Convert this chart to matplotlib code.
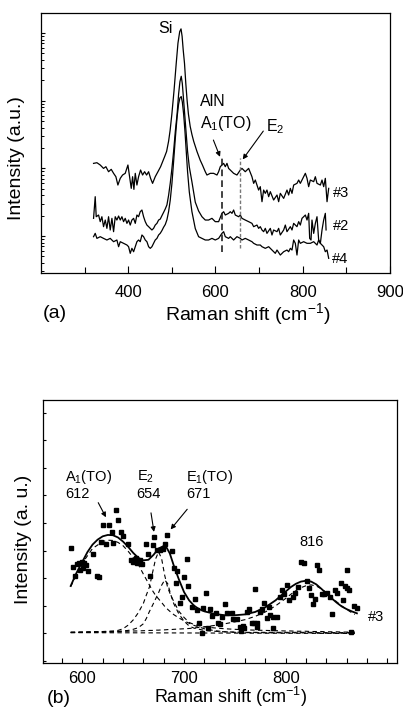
import numpy as np
import matplotlib
matplotlib.use('Agg')
import matplotlib.pyplot as plt
from matplotlib.ticker import LogLocator, NullFormatter, MultipleLocator, FixedLocator

plt.rcParams['font.family'] = ['Liberation Sans', 'DejaVu Sans']
plt.rcParams['mathtext.fontset'] = 'custom'
plt.rcParams['mathtext.rm'] = 'Liberation Sans'
plt.rcParams['mathtext.it'] = 'Liberation Sans:italic'
plt.rcParams['mathtext.bf'] = 'Liberation Sans:bold'

# (a) Raman spectra, log10 of intensity
x3 = [320.5, 328.2, 335.8, 343.4, 348.8, 354.9, 361.0, 366.4, 371.7, 376.3,
      381.7, 387.0, 393.1, 399.3, 403.1, 406.9, 410.0, 413.0, 416.1, 419.9,
      423.7, 428.3, 432.9, 437.5, 442.1, 446.7, 451.2, 455.8, 461.9, 468.1,
      474.2, 478.8, 483.4, 488.0, 492.5, 496.0, 500.0, 505.0, 510.0, 514.0,
      518.0, 521.0, 523.5, 526.0, 529.0, 532.0, 535.0, 538.0, 542.0, 546.0,
      550.0, 557.5, 565.0, 570.0, 576.6, 580.4, 588.1, 595.7, 603.4, 607.2,
      611.0, 614.8, 618.7, 622.5, 626.3, 630.1, 633.9, 641.6, 649.2, 656.9,
      660.7, 668.3, 676.0, 683.6, 687.5, 691.3, 695.1, 698.9, 702.7, 706.6,
      710.4, 714.2, 718.0, 721.9, 725.7, 733.3, 741.0, 744.8, 748.6, 756.3,
      763.9, 767.7, 771.6, 775.4, 779.2, 786.8, 790.7, 794.5, 802.1, 806.0,
      809.8, 813.6, 817.4, 825.1, 828.9, 832.7, 840.4, 844.2, 848.0, 851.8,
      855.7, 859.5]
log3 = [1.073, 1.083, 1.049, 0.999, 1.024, 0.950, 0.985, 0.926, 0.876, 0.753,
        0.852, 0.901, 0.926, 1.049, 0.876, 0.704, 0.876, 0.689, 0.926, 0.753,
        0.876, 0.975, 0.901, 0.950, 0.901, 0.950, 0.852, 0.778, 0.876, 0.950,
        1.024, 1.098, 1.172, 1.250, 1.400, 1.560, 1.800, 2.150, 2.550, 2.850,
        3.020, 3.060, 2.950, 2.750, 2.550, 2.250, 2.000, 1.800, 1.620, 1.500,
        1.400, 1.250, 1.120, 1.050, 0.950, 0.901, 0.926, 0.926, 0.901, 0.950,
        1.024, 1.049, 1.073, 1.024, 1.073, 0.999, 0.975, 0.926, 0.901, 0.975,
        0.999, 0.950, 0.999, 0.876, 0.778, 0.827, 0.753, 0.679, 0.729, 0.507,
        0.679, 0.630, 0.679, 0.581, 0.655, 0.532, 0.606, 0.507, 0.630, 0.556,
        0.679, 0.606, 0.704, 0.630, 0.753, 0.778, 0.827, 0.778, 0.876, 0.926,
        0.852, 0.729, 0.827, 0.803, 0.876, 0.778, 0.753, 0.827, 0.729, 0.852,
        0.507, 0.704]

x2 = [320.5, 324.3, 326.6, 332.0, 335.8, 339.6, 343.4, 347.3, 351.1, 354.9,
      358.7, 362.6, 366.4, 370.2, 374.0, 377.9, 381.7, 385.5, 389.3, 393.1,
      397.0, 400.8, 404.6, 408.4, 412.3, 416.1, 419.9, 423.7, 427.5, 431.4,
      435.2, 439.0, 442.8, 446.7, 450.5, 454.3, 458.1, 461.9, 465.8, 469.6,
      473.4, 477.2, 481.1, 484.9, 488.7, 492.5, 496.3, 500.2, 504.0, 508.0,
      512.0, 515.5, 518.5, 521.5, 524.0, 527.0, 530.0, 533.0, 536.0, 540.0,
      546.0, 553.7, 561.3, 569.0, 576.6, 584.2, 591.9, 599.5, 607.2, 614.8,
      618.7, 622.5, 630.1, 633.9, 637.8, 641.6, 645.4, 653.1, 656.9, 660.7,
      668.3, 676.0, 683.6, 687.5, 695.1, 698.9, 702.7, 706.6, 710.4, 714.2,
      718.0, 725.7, 729.5, 733.3, 741.0, 744.8, 748.6, 756.3, 760.1, 763.9,
      771.6, 775.4, 779.2, 786.8, 790.7, 794.5, 798.3, 802.1, 806.0, 809.8,
      813.6, 815.9, 819.0, 821.2, 825.1, 828.9, 832.7, 836.5, 840.4, 844.2,
      848.0, 851.8, 853.5]
log2 = [0.261, 0.581, 0.285, 0.310, 0.212, 0.285, 0.138, 0.236, 0.113, 0.285,
        0.089, 0.261, 0.064, 0.285, 0.236, 0.295, 0.236, 0.285, 0.212, 0.261,
        0.187, 0.236, 0.162, 0.236, 0.261, 0.187, 0.310, 0.285, 0.359, 0.384,
        0.285, 0.212, 0.162, 0.138, 0.113, 0.089, 0.113, 0.162, 0.187, 0.236,
        0.250, 0.300, 0.350, 0.400, 0.460, 0.600, 0.780, 1.000, 1.250, 1.550,
        1.800, 2.100, 2.280, 2.360, 2.250, 2.000, 1.750, 1.500, 1.250, 1.020,
        0.800, 0.500, 0.370, 0.285, 0.236, 0.236, 0.261, 0.212, 0.212, 0.335,
        0.359, 0.310, 0.335, 0.359, 0.335, 0.384, 0.310, 0.285, 0.310, 0.261,
        0.236, 0.212, 0.187, 0.138, 0.162, 0.113, 0.138, 0.089, 0.064, 0.113,
        0.039, 0.113, 0.015, 0.089, 0.064, 0.113, 0.015, 0.089, 0.162, 0.064,
        0.138, 0.089, 0.187, 0.138, 0.212, 0.162, 0.261, 0.285, 0.310, 0.236,
        0.335, -0.035, -0.059, 0.236, 0.039, 0.187, 0.285, -0.059, -0.108, 0.089,
        0.236, 0.335, 0.090]

x4 = [320.5, 324.3, 328.2, 335.8, 343.4, 351.1, 358.7, 366.4, 374.0, 377.9,
      381.7, 389.3, 397.0, 400.8, 404.6, 408.4, 412.3, 416.1, 419.9, 423.7,
      427.5, 431.4, 435.2, 439.0, 442.8, 446.7, 450.5, 454.3, 458.1, 461.9,
      465.8, 469.6, 473.4, 477.2, 481.1, 484.9, 488.7, 492.5, 496.3, 500.2,
      504.0, 508.0, 512.0, 515.5, 518.5, 521.5, 524.0, 527.0, 530.0, 533.0,
      536.0, 540.0, 546.0, 553.7, 561.3, 569.0, 576.6, 584.2, 591.9, 599.5,
      607.2, 614.8, 618.7, 622.5, 630.1, 633.9, 641.6, 649.2, 656.9, 660.7,
      668.3, 676.0, 683.6, 687.5, 695.1, 702.7, 706.6, 714.2, 721.9, 729.5,
      737.1, 741.0, 748.6, 756.3, 763.9, 767.7, 771.6, 775.4, 779.2, 783.0,
      786.8, 790.7, 794.5, 802.1, 809.8, 817.4, 825.1, 832.7, 836.5, 840.4,
      848.0, 851.8, 855.7, 859.5]
log4 = [-0.010, 0.039, -0.035, -0.010, -0.035, -0.059, -0.035, -0.084, -0.059, -0.158,
        -0.084, -0.108, -0.133, -0.158, -0.256, -0.182, -0.232, -0.158, -0.084, -0.059,
        -0.084, 0.015, -0.010, -0.059, -0.084, -0.158, -0.182, -0.158, -0.108, -0.059,
        -0.035, 0.015, 0.040, 0.080, 0.130, 0.170, 0.240, 0.360, 0.530, 0.780,
        1.100, 1.450, 1.760, 1.950, 2.040, 2.060, 1.980, 1.800, 1.550, 1.250,
        0.950, 0.650, 0.360, 0.110, -0.010, -0.035, -0.059, -0.059, -0.035, -0.059,
        -0.035, 0.039, 0.064, -0.010, -0.035, -0.010, -0.059, -0.010, -0.035, -0.059,
        -0.035, -0.059, -0.084, -0.108, -0.133, -0.133, -0.158, -0.182, -0.158, -0.207,
        -0.256, -0.207, -0.281, -0.232, -0.207, -0.232, -0.182, -0.207, -0.059, -0.108,
        -0.281, -0.059, -0.108, -0.084, -0.108, -0.108, -0.084, -0.133, -0.059, -0.108,
        -0.158, -0.232, -0.207, -0.330]

# AlN mode markers in (a): position, log10 of bottom and top
mode_x = [615, 656]
mode_lo = [-0.23, -0.18]
mode_hi = [1.17, 1.15]

# (b) measured points of #3
pts_x = [588.5, 591.0, 592.7, 595.0, 597.0, 597.6, 599.3, 600.9, 601.6, 603.5,
         605.8, 610.7, 614.6, 616.6, 618.0, 620.0, 623.2, 626.5, 628.8, 630.4,
         633.0, 635.3, 638.0, 639.6, 645.1, 647.5, 650.0, 652.7, 654.0, 656.6,
         658.3, 662.5, 664.8, 666.5, 669.1, 670.7, 673.1, 676.3, 679.0, 681.2,
         683.5,
         687.8, 690.0, 692.0, 693.3, 696.0, 698.2, 699.9, 702.6, 704.0, 707.5,
         710.7, 712.4, 715.0, 717.3, 718.9, 721.5, 723.8, 725.5, 727.1, 731.4,
         733.6, 735.3, 737.0, 740.2, 742.5, 746.8, 748.4, 751.7, 755.0, 755.7,
         758.2, 758.9, 761.6, 763.8, 767.0, 768.7, 769.7, 771.4, 772.0, 774.6,
         776.3, 778.6, 781.2, 783.8, 784.5, 787.7, 787.7, 791.0, 794.3, 796.6,
         798.2, 800.9,
         803.4, 807.4, 809.1, 812.3, 814.6, 817.9, 820.5, 823.1, 824.5, 827.0,
         828.7, 830.4, 833.0, 835.3, 837.9, 840.8, 843.5, 845.1, 848.4, 850.0,
         854.0, 856.5, 858.2, 859.9, 860.5, 862.5, 863.8, 867.0, 869.7]
pts_y = [4.10, 3.42, 3.08, 3.51, 3.56, 3.30, 3.60, 3.36, 3.56, 3.48,
         3.26, 3.88, 3.08, 3.03, 4.32, 4.92, 4.26, 4.92, 4.69, 4.29,
         5.47, 5.11, 4.69, 4.53, 4.23, 3.66, 3.60, 3.72, 3.54, 3.66,
         3.51, 4.24, 3.88, 3.08, 4.19, 4.48, 4.02, 4.02, 4.05, 4.26,
         4.57,
         4.00, 3.36, 2.84, 3.26, 2.11, 2.33, 3.05, 3.70, 2.72, 1.97,
         2.24, 1.85, 1.37, 1.00, 1.91, 2.47, 1.18, 1.87, 1.63, 1.73,
         1.37, 1.34, 1.58, 2.05, 1.73, 1.73, 1.53, 1.52, 1.24, 1.09,
         1.27, 1.18, 1.79, 1.90, 1.37, 1.39, 2.60, 1.24, 1.39, 1.78,
         1.90, 2.11, 1.55, 1.95, 1.67, 1.61, 1.18, 1.61, 2.33, 2.57,
         2.42, 2.75,
         2.21, 2.33, 2.45, 2.67, 3.60, 3.54, 2.91, 2.63, 2.39, 2.05,
         2.24, 3.48, 3.30, 2.42, 2.42, 2.45, 2.33, 1.69, 2.57, 2.45,
         2.84, 2.21, 2.72, 2.63, 3.30, 2.57, 1.06, 1.99, 1.91]

# (b) total fit
fit_x = [588.5, 594, 600, 605, 610, 615, 620, 625, 630, 635,
         640, 645, 650, 655, 660, 665, 670, 675, 680, 683,
         686, 690, 695, 700, 705, 710, 715, 720, 730, 740,
         750, 760, 770, 780, 790, 800, 805, 810, 815, 820,
         825, 830, 835, 840, 845, 850, 855, 860, 865, 870]
fit_total = [2.72, 3.18, 3.60, 3.95, 4.22, 4.40, 4.52, 4.57, 4.56, 4.48,
             4.33, 4.14, 3.92, 3.74, 3.65, 3.67, 3.85, 4.08, 4.17, 4.10,
             3.90, 3.45, 2.95, 2.50, 2.20, 2.00, 1.88, 1.80, 1.71, 1.66,
             1.66, 1.69, 1.78, 1.95, 2.20, 2.52, 2.68, 2.80, 2.88, 2.91,
             2.88, 2.78, 2.62, 2.45, 2.28, 2.12, 1.98, 1.88, 1.80, 1.73]

# (b) fitted components (dashed)
comp_x = [588.5, 600, 610, 620, 625, 630, 635, 640, 645, 650,
          655, 660, 663, 666, 669, 672, 675, 678, 681, 684,
          687, 690, 695, 700, 705, 710, 720, 730, 740, 750,
          760, 770, 780, 790, 800, 805, 810, 815, 820, 825,
          830, 835, 840, 845, 850, 855, 860, 865, 868]
comp_a1 = [2.70, 3.55, 4.08, 4.33, 4.38, 4.37, 4.30, 4.18, 3.98, 3.75,
           3.50, 3.15, 2.95, 2.75, 2.55, 2.38, 2.25, 2.12, 1.98, 1.87,
           1.77, 1.68, 1.56, 1.46, 1.37, 1.29, 1.17, 1.10, 1.06, 1.04,
           1.03, 1.03, 1.02, 1.02, 1.02, 1.02, 1.02, 1.02, 1.02, 1.02,
           1.01, 1.01, 1.01, 1.01, 1.01, 1.01, 1.01, 1.01, 1.01]
comp_e2 = [1.04, 1.05, 1.06, 1.07, 1.08, 1.09, 1.11, 1.17, 1.30, 1.49,
           1.75, 2.09, 2.40, 2.69, 3.20, 3.70, 3.96, 3.70, 3.10, 2.65,
           2.38, 2.15, 1.80, 1.58, 1.40, 1.32, 1.24, 1.20, 1.17, 1.15,
           1.13, 1.12, 1.11, 1.10, 1.09, 1.09, 1.08, 1.08, 1.08, 1.07,
           1.07, 1.07, 1.06, 1.06, 1.06, 1.05, 1.05, 1.05, 1.05]
comp_e1 = [1.03, 1.04, 1.04, 1.05, 1.05, 1.06, 1.07, 1.09, 1.11, 1.15,
           1.21, 1.35, 1.55, 1.80, 2.02, 2.25, 2.48, 2.75, 2.94, 2.80,
           2.40, 2.07, 1.70, 1.45, 1.27, 1.19, 1.11, 1.08, 1.06, 1.05,
           1.04, 1.04, 1.04, 1.04, 1.04, 1.04, 1.04, 1.04, 1.04, 1.04,
           1.03, 1.03, 1.03, 1.03, 1.03, 1.03, 1.03, 1.03, 1.03]
comp_816 = [1.05, 1.05, 1.06, 1.06, 1.07, 1.07, 1.07, 1.08, 1.08, 1.09,
            1.09, 1.10, 1.10, 1.11, 1.11, 1.12, 1.12, 1.13, 1.13, 1.14,
            1.14, 1.15, 1.16, 1.17, 1.18, 1.20, 1.24, 1.29, 1.35, 1.42,
            1.50, 1.62, 1.78, 2.00, 2.27, 2.42, 2.55, 2.66, 2.73, 2.76,
            2.72, 2.62, 2.48, 2.32, 2.15, 2.00, 1.87, 1.75, 1.69]
base_x = [588.5, 868]
base_y = [1.03, 1.00]

fig = plt.figure(figsize=(4.03, 7.09), dpi=100)

# ---------------- panel (a)
ax = fig.add_axes([0.1017, 0.6149, 0.866, 0.3667])
for xs, ls in [(x3, log3), (x2, log2), (x4, log4)]:
    ax.plot(xs, 10 ** np.array(ls), color='black', lw=0.9)
ax.plot([mode_x[0], mode_x[0]], [10 ** mode_lo[0], 10 ** mode_hi[0]],
        color='#222222', lw=1.2, dashes=(4, 2.5))
ax.plot([mode_x[1], mode_x[1]], [10 ** mode_lo[1], 10 ** mode_hi[1]],
        color='#777777', lw=1.0, dashes=(2.5, 1.5))
ax.set_yscale('log')
ax.set_xlim(200, 1000)
ax.set_ylim(10 ** -0.547, 10 ** 3.294)
ax.xaxis.set_major_locator(FixedLocator([400, 600, 800, 1000]))
ax.set_xticklabels(['400', '600', '800', '900'])
ax.xaxis.set_minor_locator(FixedLocator([300, 500, 700, 900]))
ax.yaxis.set_major_locator(LogLocator(base=10))
ax.yaxis.set_minor_locator(LogLocator(base=10, subs=np.arange(2, 10)))
ax.yaxis.set_major_formatter(NullFormatter())
ax.yaxis.set_minor_formatter(NullFormatter())
ax.tick_params(axis='x', which='major', direction='in', length=5, width=0.8,
               labelsize=12, pad=8.5)
ax.tick_params(axis='x', which='minor', direction='in', length=4.5, width=0.8)
ax.tick_params(axis='y', which='major', direction='in', length=3.2, width=0.8)
ax.tick_params(axis='y', which='minor', direction='in', length=1.8, width=0.7)
for s in ax.spines.values():
    s.set_linewidth(0.9)
ax.set_xlabel('Raman shift (cm$^{-1}$)', fontsize=14, va='baseline')
ax.xaxis.set_label_coords(0.592, -0.18)
ax.set_ylabel('Intensity (a.u.)', fontsize=14)
ax.yaxis.set_label_coords(-0.046, 0.442)

ax.text(0.336, 0.922, 'Si', transform=ax.transAxes, fontsize=11.5, va='baseline')
ax.text(0.456, 0.642, 'AlN', transform=ax.transAxes, fontsize=11.5, va='baseline')
ax.text(0.456, 0.5565, 'A$_1$(TO)', transform=ax.transAxes, fontsize=11.5, va='baseline')
ax.text(0.645, 0.5435, 'E$_2$', transform=ax.transAxes, fontsize=11.5, va='baseline')
ax.text(0.8375, 0.2935, '#3', transform=ax.transAxes, fontsize=10.5, va='baseline')
ax.text(0.8375, 0.165, '#2', transform=ax.transAxes, fontsize=10.5, va='baseline')
ax.text(0.833, 0.037, '#4', transform=ax.transAxes, fontsize=10.5, va='baseline')
arr = dict(arrowstyle='-|>', lw=0.8, color='black', mutation_scale=7,
           shrinkA=0, shrinkB=0)
ax.annotate('', xy=(0.513, 0.447), xytext=(0.494, 0.5115),
            xycoords='axes fraction', arrowprops=arr)
ax.annotate('', xy=(0.578, 0.437), xytext=(0.637, 0.546),
            xycoords='axes fraction', arrowprops=arr)
fig.text(43 / 403, 1 - 313 / 709, '(a)', fontsize=14, va='center')

# ---------------- panel (b)
bx = fig.add_axes([0.106, 0.0653, 0.878, 0.3705])
bx.plot(base_x, base_y, color='black', lw=0.8, dashes=(4, 3))
for cy in [comp_a1, comp_e2, comp_e1, comp_816]:
    bx.plot(comp_x, cy, color='black', lw=0.8, dashes=(4, 3))
bx.plot(fit_x, fit_total, color='black', lw=1.3)
bx.plot(pts_x, pts_y, linestyle='none', marker='s', ms=3.3, color='black')
bx.set_xlim(561, 909)
bx.set_ylim(-0.06, 9.46)
bx.xaxis.set_major_locator(FixedLocator([600, 700, 800]))
bx.xaxis.set_minor_locator(MultipleLocator(20))
bx.yaxis.set_major_locator(FixedLocator(list(range(10))))
bx.yaxis.set_major_formatter(NullFormatter())
bx.tick_params(axis='x', which='both', direction='in', length=3.5, width=0.8,
               labelsize=12, pad=6)
bx.tick_params(axis='y', which='major', direction='in', length=2.2, width=0.8)
for s in bx.spines.values():
    s.set_linewidth(0.9)
bx.set_xlabel('Raman shift (cm$^{-1}$)', fontsize=13, va='baseline')
bx.xaxis.set_label_coords(0.531, -0.153)
bx.set_ylabel('Intensity (a. u.)', fontsize=14)
bx.yaxis.set_label_coords(-0.031, 0.471)

bx.text(582.9, 6.68, 'A$_1$(TO)', fontsize=10.5, va='center')
bx.text(582.9, 6.05, '612', fontsize=10.5, va='center')
bx.text(653.4, 6.68, 'E$_2$', fontsize=10.5, va='center')
bx.text(653.4, 6.05, '654', fontsize=10.5, va='center')
bx.text(701.9, 6.68, 'E$_1$(TO)', fontsize=10.5, va='center')
bx.text(701.9, 6.05, '671', fontsize=10.5, va='center')
bx.text(813.9, 4.32, '816', fontsize=10.5, va='center')
bx.text(881.1, 1.58, '#3', fontsize=10.5, va='center')
bx.annotate('', xy=(623.2, 5.21), xytext=(615.6, 5.74), arrowprops=arr)
bx.annotate('', xy=(670.4, 4.68), xytext=(667.5, 5.37), arrowprops=arr)
bx.annotate('', xy=(686.8, 4.77), xytext=(703.1, 5.50), arrowprops=arr)
fig.text(46.7 / 403, 1 - 703 / 709, '(b)', fontsize=14, va='baseline')

fig.savefig('out.png', dpi=100)
